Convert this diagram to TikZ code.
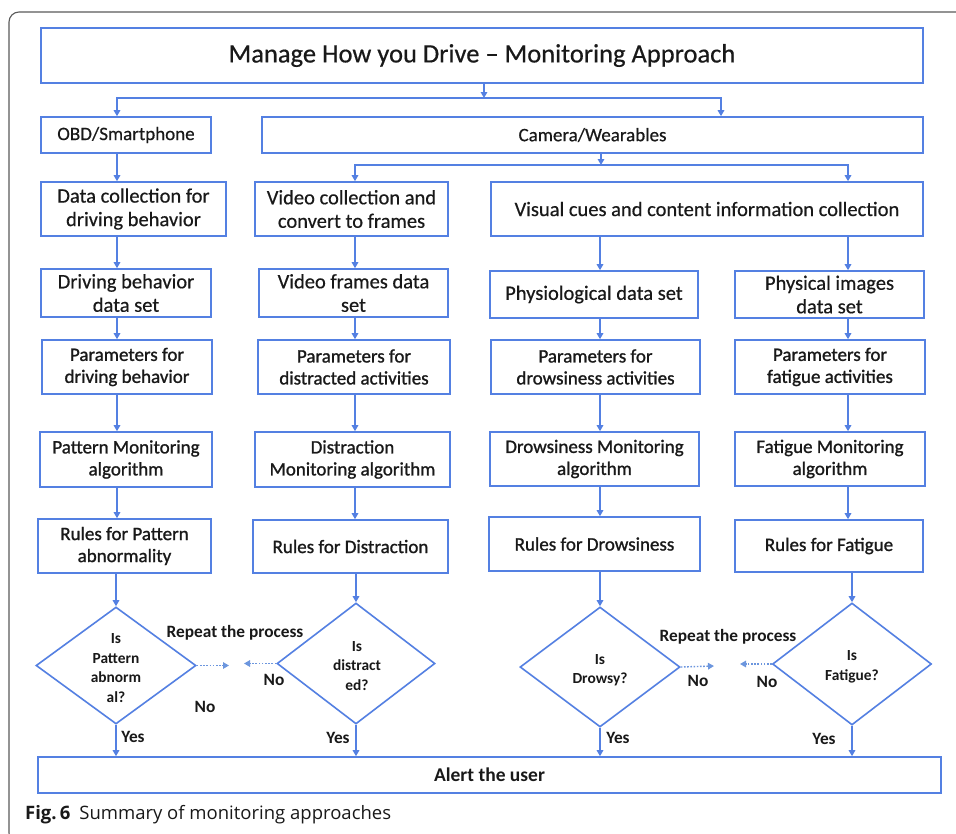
\documentclass[tikz,border=0pt]{standalone}
\usepackage{fontspec}
\setmainfont{Carlito}
\newfontfamily\plainfont{Carlito}[FakeBold=0.5,Ligatures=TeX]
\newfontfamily\heavyfont{Carlito}[FakeBold=1.1,Ligatures=TeX]
\newfontfamily\capfont{Open Sans}
\usetikzlibrary{shapes.geometric,arrows.meta}

\definecolor{boxblue}{RGB}{84,128,226}
\definecolor{dotblue}{RGB}{108,150,222}
\definecolor{framegrey}{RGB}{90,90,90}
\definecolor{ink}{RGB}{25,25,25}

\tikzset{
  box/.style={draw=boxblue, line width=1.6pt, fill=white, align=center,
    inner sep=0pt, text=ink, font=\heavyfont\fontsize{19}{22}\selectfont},
  bigbox/.style={box, font=\plainfont\fontsize{20.5}{23.5}\selectfont},
  decision/.style={diamond, draw=boxblue, line width=1.6pt, inner sep=0pt},
  dtext/.style={align=center, text=ink, font=\bfseries\fontsize{15.4}{19.5}\selectfont},
  lbl/.style={text=ink, font=\bfseries\fontsize{17.3}{20}\selectfont, inner sep=0pt},
  arr/.style={draw=boxblue, line width=1.6pt, -{Triangle[length=6pt,width=6.5pt]}},
  dotarr/.style={draw=dotblue, line width=1.4pt, dash pattern=on 1.6pt off 1.6pt,
    -{Triangle[length=6pt,width=6.5pt]}},
}

\begin{document}
\begin{tikzpicture}[x=1pt, y=-1pt]
\clip (0,0) rectangle (956,833);
\fill[white] (0,0) rectangle (956,833);

% card outline
\draw[framegrey, line width=1.1pt, rounded corners=10pt]
  (960,12) -- (9,12) -- (9,843) -- (40,843);

% column positions of the vertical connectors
\coordinate (k1) at (117,0);
\coordinate (k2) at (355,0);
\coordinate (k3) at (600,0);
\coordinate (k4) at (848,0);
\coordinate (k5) at (721,0);
\coordinate (j1) at (484,98);
\coordinate (j2) at (601,165);

% header and branches
\node[box, minimum width=882pt, minimum height=55pt,
  font=\plainfont\fontsize{26.5}{30}\selectfont] (title) at (482,55.5)
  {Manage How you Drive – Monitoring Approach};
\node[bigbox, minimum width=170pt, minimum height=36pt,
  font=\plainfont\fontsize{19}{22}\selectfont] (obd) at (126,135) {OBD/Smartphone};
\node[bigbox, minimum width=661pt, minimum height=36pt,
  font=\plainfont\fontsize{19}{22}\selectfont] (cam) at (592.5,135) {Camera/Wearables};

% collection row
\node[bigbox, minimum width=185pt, minimum height=54pt] (data) at (133.5,209)
  {Data collection for\\driving behavior};
\node[bigbox, minimum width=193pt, minimum height=54pt] (video) at (351.5,209)
  {Video collection and\\convert to frames};
\node[bigbox, minimum width=432pt, minimum height=54pt] (visual) at (707,209)
  {Visual cues and content information collection};

% data sets
\node[bigbox, minimum width=170pt, minimum height=48pt] (dset) at (126,293)
  {Driving behavior\\data set};
\node[bigbox, minimum width=189pt, minimum height=48pt] (vset) at (353.5,293)
  {Video frames data\\set};
\node[bigbox, minimum width=208pt, minimum height=47pt] (pset) at (594,294.5)
  {Physiological data set};
\node[bigbox, minimum width=189pt, minimum height=47pt] (iset) at (829.5,294.5)
  {Physical images\\data set};

% parameters
\node[box, minimum width=170pt, minimum height=54pt] (par1) at (127,367)
  {Parameters for\\driving behavior};
\node[box, minimum width=192pt, minimum height=54pt] (par2) at (354,367)
  {Parameters for\\distracted activities};
\node[box, minimum width=209pt, minimum height=54pt] (par3) at (595.5,367)
  {Parameters for\\drowsiness activities};
\node[box, minimum width=190pt, minimum height=54pt] (par4) at (830,367)
  {Parameters for\\fatigue activities};

% monitoring algorithms
\node[box, minimum width=172pt, minimum height=55pt] (alg1) at (126,459.5)
  {Pattern Monitoring\\algorithm};
\node[box, minimum width=195pt, minimum height=55pt] (alg2) at (352.5,459.5)
  {Distraction\\Monitoring algorithm};
\node[box, minimum width=209pt, minimum height=54pt] (alg3) at (594.5,459)
  {Drowsiness Monitoring\\algorithm};
\node[box, minimum width=190pt, minimum height=54pt] (alg4) at (830,459)
  {Fatigue Monitoring\\algorithm};

% rules
\node[box, minimum width=173pt, minimum height=54pt] (rul1) at (124.5,546)
  {Rules for Pattern\\abnormality};
\node[box, minimum width=195pt, minimum height=53pt] (rul2) at (350.5,546.5)
  {Rules for Distraction};
\node[box, minimum width=211pt, minimum height=54pt] (rul3) at (594.5,544)
  {Rules for Drowsiness};
\node[box, minimum width=188pt, minimum height=52pt] (rul4) at (829,546)
  {Rules for Fatigue};

% decisions
\node[decision, minimum width=160pt, minimum height=117pt] (d1) at (116,665.5) {};
\node[decision, minimum width=158pt, minimum height=121pt] (d2) at (356,663.5) {};
\node[decision, minimum width=160pt, minimum height=120pt] (d3) at (600,667) {};
\node[decision, minimum width=159pt, minimum height=122pt] (d4) at (852,664) {};
\node[dtext] (t1) at (116,668) {Is\\Pattern\\abnorm\\al?};
\node[dtext] (t2) at (357,666) {Is\\distract\\ed?};
\node[dtext] (t3) at (600,670) {Is\\Drowsy?};
\node[dtext] (t4) at (852,667) {Is\\Fatigue?};

% alert
\node[box, minimum width=903pt, minimum height=36pt,
  font=\bfseries\fontsize{19.5}{22}\selectfont] (alert) at (489.5,775) {Alert the user};

% header connectors
\draw[arr] (title.south -| j1) -- (j1);
\draw[arr] (j1) -| (obd.north -| k1);
\draw[arr] (j1) -| (cam.north -| k5);
\draw[arr] (cam.south -| j2) -- (j2);
\draw[arr] (j2) -| (video.north -| k2);
\draw[arr] (j2) -| (visual.north -| k4);

% column 1
\draw[arr] (obd.south -| k1) -- (data.north -| k1);
\draw[arr] (data.south -| k1) -- (dset.north -| k1);
\draw[arr] (dset.south -| k1) -- (par1.north -| k1);
\draw[arr] (par1.south -| k1) -- (alg1.north -| k1);
\draw[arr] (alg1.south -| k1) -- (rul1.north -| k1);
\draw[arr] (rul1.south -| d1.north) -- (d1.north);
\draw[arr] (d1.south) -- (alert.north -| d1.south);

% column 2
\draw[arr] (video.south -| k2) -- (vset.north -| k2);
\draw[arr] (vset.south -| k2) -- (par2.north -| k2);
\draw[arr] (par2.south -| k2) -- (alg2.north -| k2);
\draw[arr] (alg2.south -| k2) -- (rul2.north -| k2);
\draw[arr] (rul2.south -| d2.north) -- (d2.north);
\draw[arr] (d2.south) -- (alert.north -| d2.south);

% column 3
\draw[arr] (visual.south -| k3) -- (pset.north -| k3);
\draw[arr] (pset.south -| k3) -- (par3.north -| k3);
\draw[arr] (par3.south -| k3) -- (alg3.north -| k3);
\draw[arr] (alg3.south -| k3) -- (rul3.north -| k3);
\draw[arr] (rul3.south -| d3.north) -- (d3.north);
\draw[arr] (d3.south) -- (alert.north -| d3.south);

% column 4
\draw[arr] (visual.south -| k4) -- (iset.north -| k4);
\draw[arr] (iset.south -| k4) -- (par4.north -| k4);
\draw[arr] (par4.south -| k4) -- (alg4.north -| k4);
\draw[arr] (alg4.south -| k4) -- (rul4.north -| k4);
\draw[arr] (rul4.south -| d4.north) -- (d4.north);
\draw[arr] (d4.south) -- (alert.north -| d4.south);

% "No" branches
\coordinate (n1) at (229,665.5);
\coordinate (n2) at (244,663.5);
\coordinate (n3) at (714,666);
\coordinate (n4) at (740,664);
\draw[dotarr] (d1.east) -- (n1);
\draw[dotarr] (d2.west) -- (n2);
\draw[dotarr] (d3.east) -- (n3);
\draw[dotarr] (d4.west) -- (n4);

\node[lbl] (rp1) at (235,633) {Repeat the process};
\node[lbl] (rp2) at (728,637) {Repeat the process};
\node[lbl] (no1) at (274,680) {No};
\node[lbl] (no2) at (205,707) {No};
\node[lbl] (no3) at (698,681) {No};
\node[lbl] (no4) at (767,682) {No};
\node[lbl] (y1) at (133,737) {Yes};
\node[lbl] (y2) at (338,738) {Yes};
\node[lbl] (y3) at (618,738) {Yes};
\node[lbl] (y4) at (824,739) {Yes};

% caption
\node[anchor=west, inner sep=0pt, text=ink, font=\capfont\fontsize{18.5}{22}\selectfont]
  (cap) at (25,815) {\textbf{Fig.\,6}\hspace{9pt}Summary of monitoring approaches};
\end{tikzpicture}
\end{document}
